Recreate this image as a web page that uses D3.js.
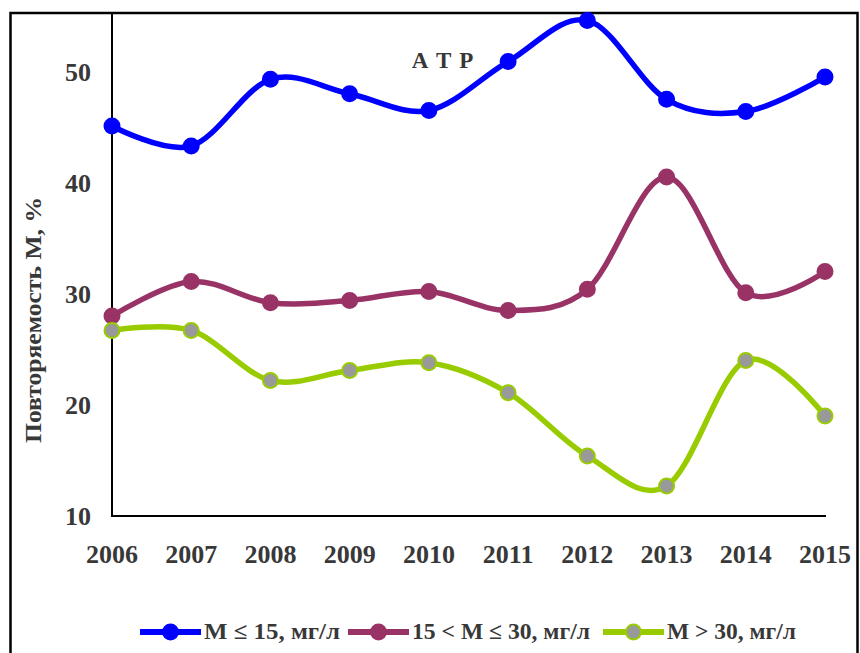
<!DOCTYPE html>
<html>
<head>
<meta charset="utf-8">
<script src="https://cdn.jsdelivr.net/npm/d3@7"></script>
<style>
  body { margin: 0; background: #fff; }
  text { font-family: "Liberation Serif", "Times New Roman", serif; font-weight: bold; fill: #383838; }
</style>
</head>
<body>
<div id="chart"></div>
<script>
// data
var years = [2006, 2007, 2008, 2009, 2010, 2011, 2012, 2013, 2014, 2015];
var low = [45.1, 43.3, 49.3, 48.0, 46.5, 50.9, 54.6, 47.5, 46.4, 49.5];
var mid = [28.0, 31.1, 29.2, 29.4, 30.2, 28.5, 30.4, 40.5, 30.1, 32.0];
var high = [26.7, 26.7, 22.2, 23.1, 23.8, 21.1, 15.4, 12.7, 24.0, 19.0];
var yTicks = [10, 20, 30, 40, 50];
var seriesNames = ["M \u2264 15,  мг/л", "15 < M \u2264 30, мг/л", "M > 30, мг/л"];

var svgWidth = 860;
var svgHeight = 653;

var svg = d3.select("#chart")
  .append("svg")
  .attr("width", svgWidth)
  .attr("height", svgHeight);

// outer frame
svg.append("rect")
  .attr("x", 10.5)
  .attr("y", 13)
  .attr("width", 847)
  .attr("height", 660)
  .attr("fill", "none")
  .attr("stroke", "#000")
  .attr("stroke-width", 2.5);

var x = d3.scalePoint()
  .domain(years)
  .range([112, 825]);

var y = d3.scaleLinear()
  .domain([10, 55])
  .range([516, 16]);

// axes lines
svg.append("line")
  .attr("x1", 112).attr("x2", 112)
  .attr("y1", 13).attr("y2", y(10))
  .attr("stroke", "#000").attr("stroke-width", 2);

svg.append("line")
  .attr("x1", 111).attr("x2", 826)
  .attr("y1", y(10)).attr("y2", y(10))
  .attr("stroke", "#000").attr("stroke-width", 2);

// y tick labels
svg.selectAll(".ytick")
  .data(yTicks)
  .enter()
  .append("text")
  .attr("class", "ytick")
  .attr("x", 91)
  .attr("y", d => y(d) + 9)
  .attr("text-anchor", "end")
  .style("font-size", "26px")
  .text(d => d);

// x tick labels
svg.selectAll(".xtick")
  .data(years)
  .enter()
  .append("text")
  .attr("class", "xtick")
  .attr("x", d => x(d))
  .attr("y", 563)
  .attr("text-anchor", "middle")
  .style("font-size", "26px")
  .text(d => d);

// y axis title
svg.append("text")
  .attr("transform", "translate(41, 320) rotate(-90)")
  .attr("text-anchor", "middle")
  .style("font-size", "23px")
  .attr("textLength", 246)
  .attr("lengthAdjust", "spacingAndGlyphs")
  .text("Повторяемость M, %");

// title inside plot
svg.append("text")
  .attr("x", 443)
  .attr("y", 68)
  .attr("text-anchor", "middle")
  .style("font-size", "23px")
  .style("letter-spacing", "1px")
  .text("А Т Р");

var series = [
  { name: seriesNames[0], values: low, color: "#0000ff", fill: "#0000ff" },
  { name: seriesNames[1], values: mid, color: "#993366", fill: "#993366" },
  { name: seriesNames[2], values: high, color: "#99cc00", fill: "#999999" }
];

var line = d3.line()
  .x((d, i) => x(years[i]))
  .y(d => y(d))
  .curve(d3.curveCardinal.tension(0));

series.forEach(function(s) {
  svg.append("path")
    .datum(s.values)
    .attr("d", line)
    .attr("fill", "none")
    .attr("stroke", s.color)
    .attr("stroke-width", 5.5)
    .attr("stroke-linejoin", "round");

  svg.selectAll(null)
    .data(s.values)
    .enter()
    .append("circle")
    .attr("cx", (d, i) => x(years[i]))
    .attr("cy", d => y(d))
    .attr("r", 7.5)
    .attr("fill", s.fill)
    .attr("stroke", s.color)
    .attr("stroke-width", 2);
});

// legend
var legendX = [140, 348, 603];
var legendW = [136, 178, 129];
var legend = svg.selectAll(".legend")
  .data(series)
  .enter()
  .append("g")
  .attr("class", "legend")
  .attr("transform", (d, i) => `translate(${legendX[i]}, 632)`);

legend.append("line")
  .attr("x1", 0).attr("x2", 61)
  .attr("y1", 0).attr("y2", 0)
  .attr("stroke", d => d.color)
  .attr("stroke-width", 6);

legend.append("circle")
  .attr("cx", 30.5)
  .attr("cy", 0)
  .attr("r", 7.5)
  .attr("fill", d => d.fill)
  .attr("stroke", d => d.color)
  .attr("stroke-width", 2);

legend.append("text")
  .attr("x", 64)
  .attr("y", 7)
  .style("font-size", "23px")
  .attr("textLength", (d, i) => legendW[i])
  .attr("lengthAdjust", "spacingAndGlyphs")
  .text(d => d.name);
</script>
</body>
</html>
